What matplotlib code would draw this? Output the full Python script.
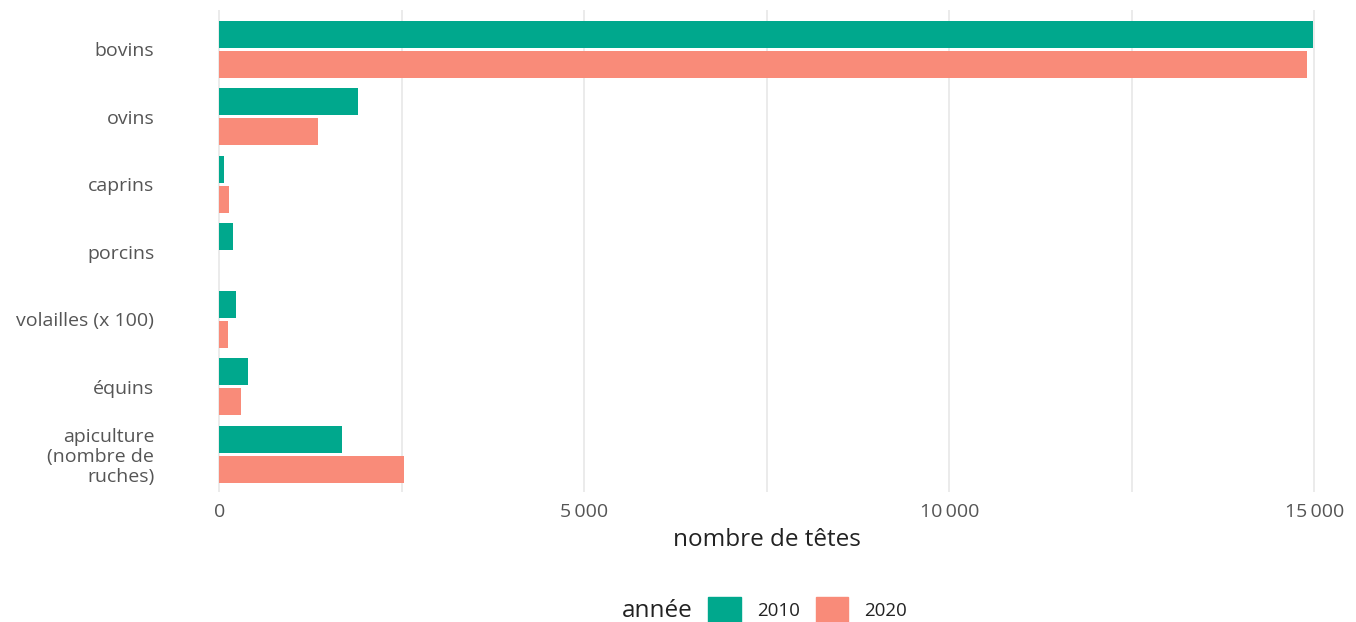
import numpy as np
import matplotlib
matplotlib.use('agg')
from matplotlib import pyplot as plt
from matplotlib.patches import Patch

# Values (number of heads)
categories = ['bovins', 'ovins', 'caprins', 'porcins', 'volailles (x 100)',
              'équins', 'apiculture\n(nombre de\nruches)']
values_2010 = [14980, 1896, 69, 192, 225, 397, 1677]
values_2020 = [14902, 1356, 137, np.nan, 123, 297, 2530]
years = ['2010', '2020']
x_ticks = [0, 5000, 10000, 15000]
x_tick_labels = ['0', '5\u2009000', '10\u2009000', '15\u2009000']

GREEN = '#00A88D'
SALMON = '#F98B79'
LABEL_GREY = '#555555'

plt.rcParams['font.family'] = ['Open Sans', 'DejaVu Sans']

W, H = 1356, 622
fig = plt.figure(figsize=(W / 100, H / 100), dpi=100)
ax = fig.add_axes([208.3 / W, 1 - 492 / H, (1343.4 - 208.3) / W, (492 - 10) / H])

y = np.arange(len(categories))
bar_h = 0.40
offset = 0.222
ax.barh(y - offset, values_2010, height=bar_h, color=GREEN, label=years[0])
ax.barh(y + offset, values_2020, height=bar_h, color=SALMON, label=years[1])

ax.set_xlim(-150, 15400)
ax.set_ylim(6.56, -0.58)

ax.set_xticks(np.arange(0, 15001, 2500), minor=True)
ax.set_xticks(x_ticks)
ax.set_xticklabels(x_tick_labels, fontsize=14, color=LABEL_GREY)
ax.set_yticks(y)
ax.set_yticklabels(categories, fontsize=14, color=LABEL_GREY, linespacing=1.12)
ax.tick_params(axis='both', which='both', length=0)
ax.tick_params(axis='y', pad=39)
ax.tick_params(axis='x', pad=8)

ax.grid(axis='x', which='both', color='#e6e6e6', linewidth=1.1)
ax.set_axisbelow(True)
for s in ax.spines.values():
    s.set_visible(False)

fig.text(766.6 / W, 1 - 540 / H, 'nombre de têtes', ha='center', va='center',
         fontsize=17.5, color='#222222')

# Legend: title on the left, entries in one row (patches run off the bottom edge)
fig.text(693 / W, 1 - 611 / H, 'année', ha='right', va='center',
         fontsize=17.5, color='#222222')
handles = [Patch(color=GREEN), Patch(color=SALMON)]
fs = 13.5
fig.legend(handles, years, loc='center left', bbox_to_anchor=(708 / W, 1 - 610 / H),
           ncol=2, frameon=False, fontsize=fs, handlelength=1.75, handleheight=1.75,
           handletextpad=0.85, columnspacing=0.85, borderpad=0, borderaxespad=0,
           labelcolor='#222222')

fig.savefig('out.png', dpi=100, facecolor='white')
